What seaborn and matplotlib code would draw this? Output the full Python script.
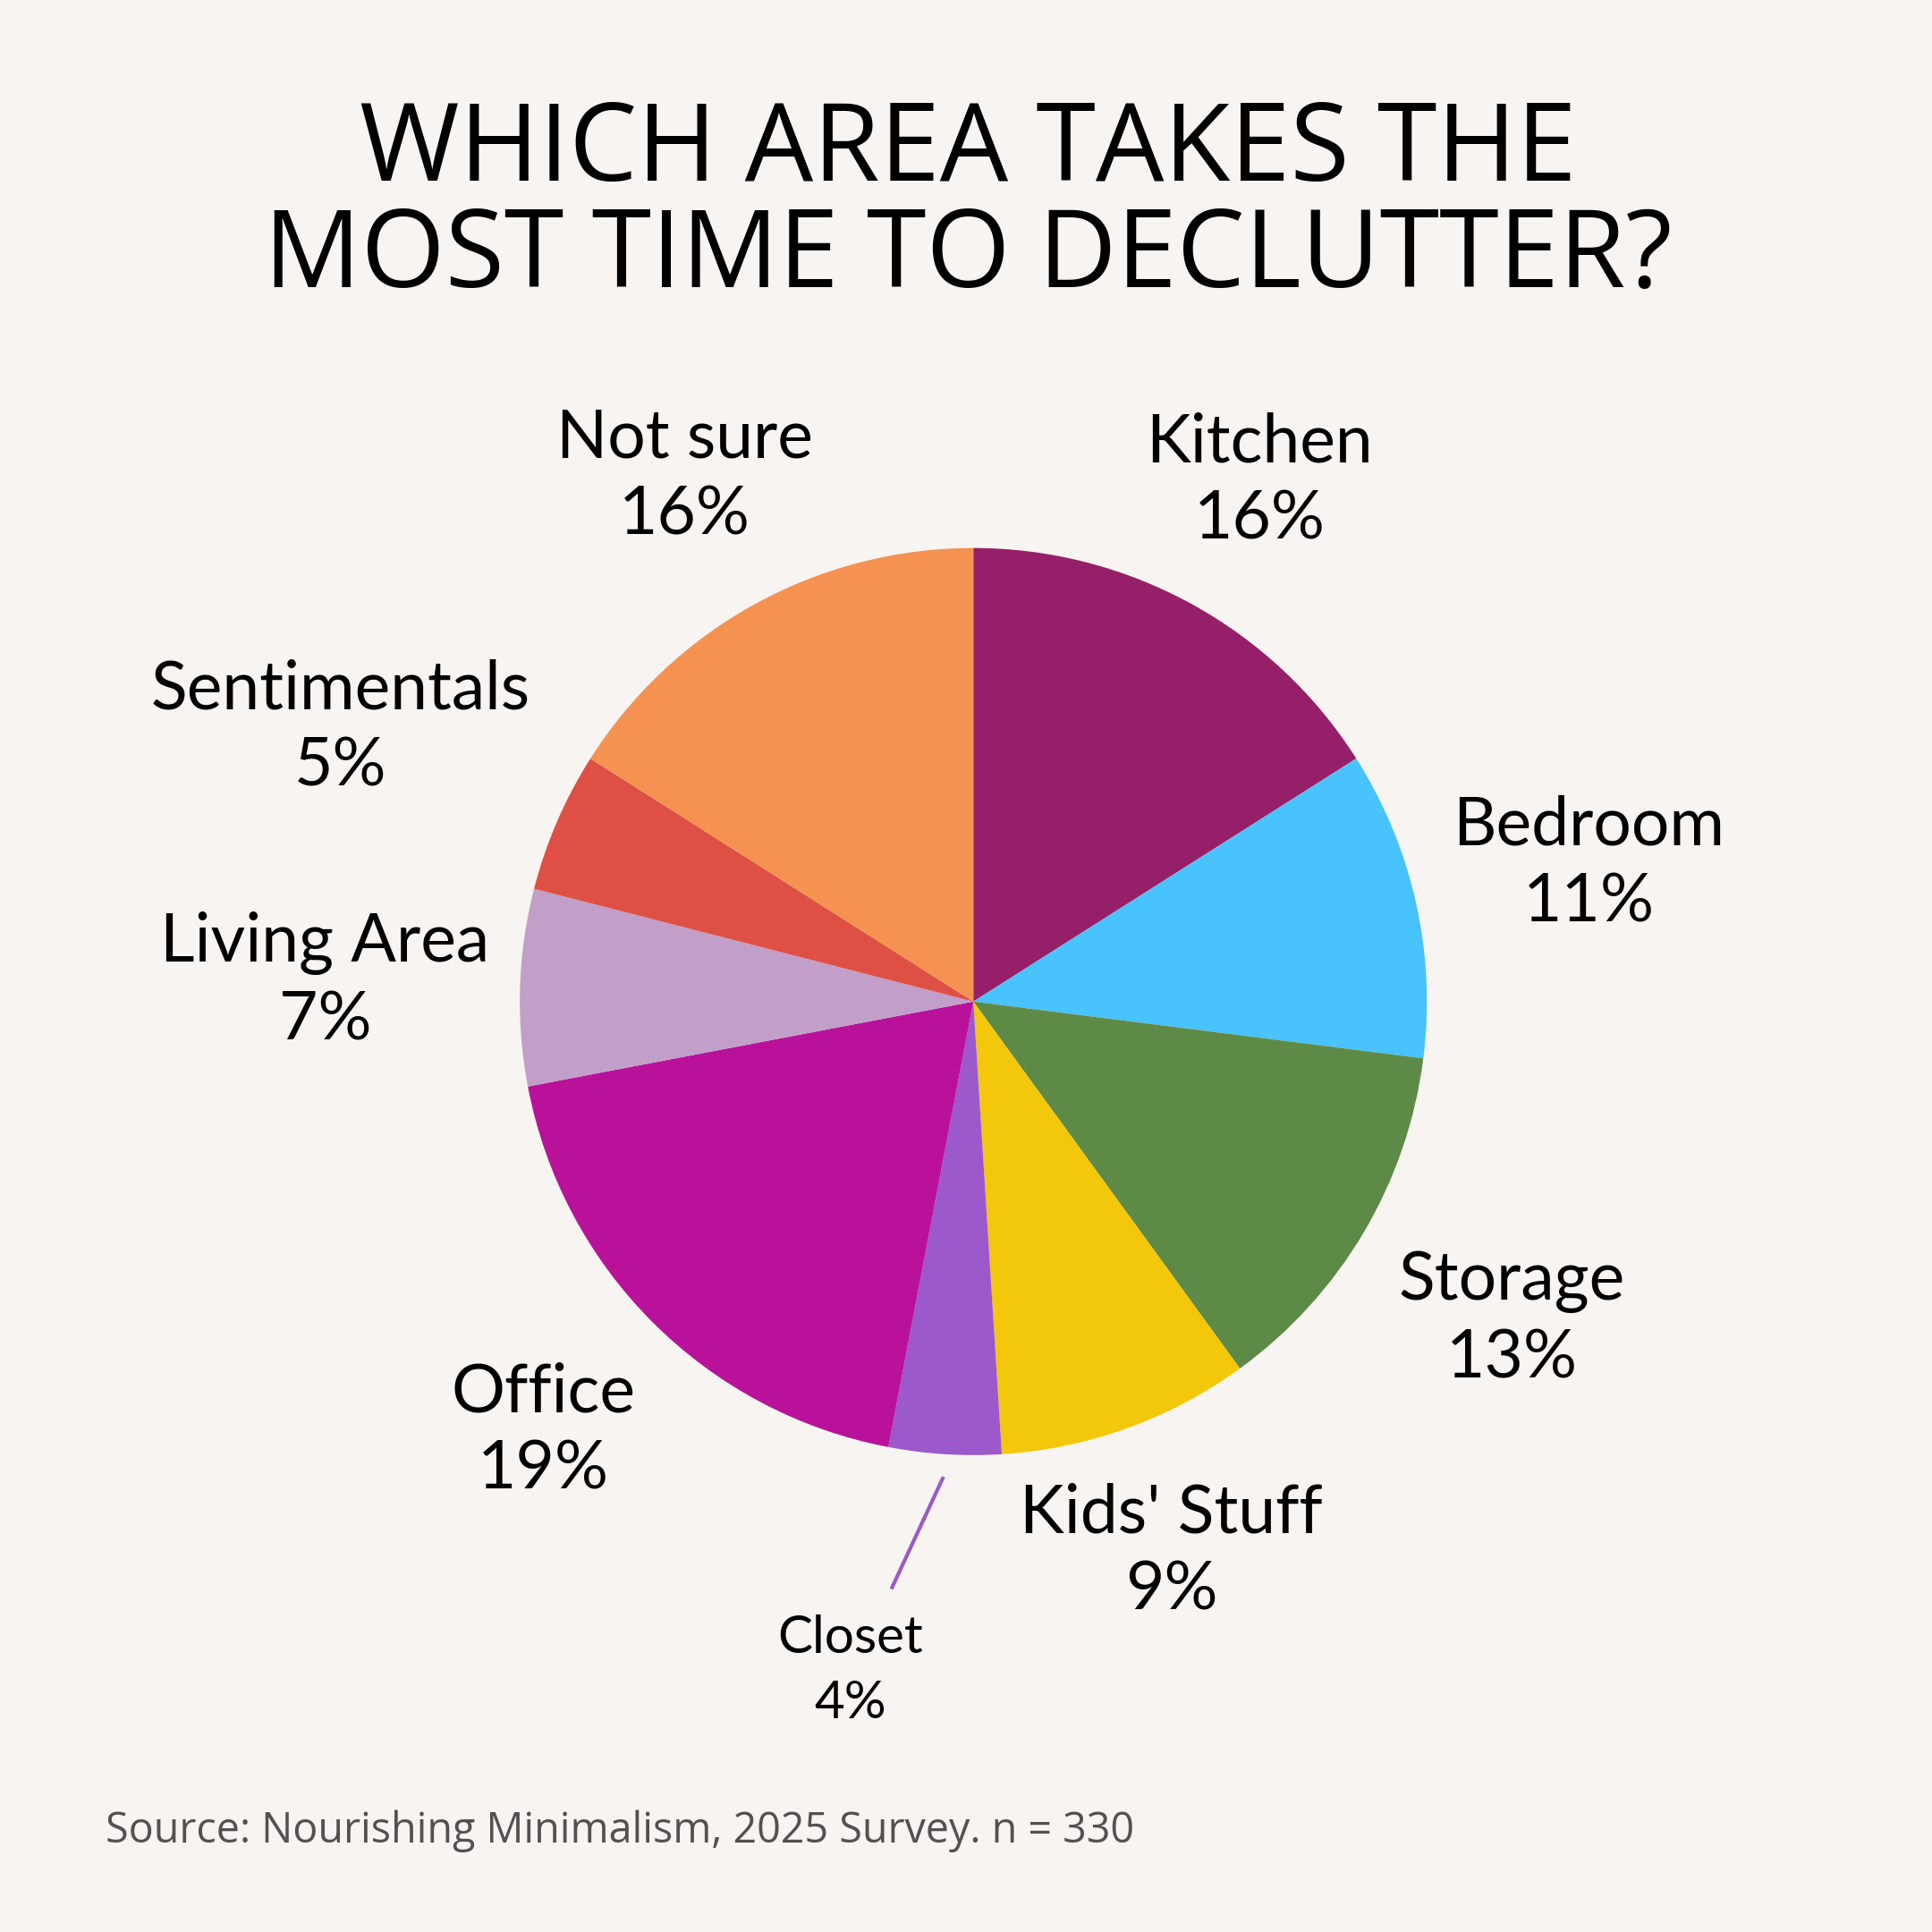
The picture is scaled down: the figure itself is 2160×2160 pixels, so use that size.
import numpy as np
import seaborn as sns
import matplotlib.pyplot as plt

# survey data
areas = ['Kitchen', 'Bedroom', 'Storage', "Kids' Stuff", 'Closet', 'Office',
         'Living Area', 'Sentimentals', 'Not sure']
shares = [16, 11, 13, 9, 4, 19, 7, 5, 16]
colors = ['#952069', '#48C3FD', '#5E8A47', '#F3C70A', '#9B59CB', '#BA119B',
          '#C29FC9', '#DF5044', '#F59252']

# label layout (pie radius = 1)
label_dist = [1.31, 1.39, 1.38, 1.29, 1.50, 1.34, 1.43, 1.52, 1.32]
label_shift = [0, 0, 0, 0, -6.8, 0, 0, 0, 0]

bg = '#F8F4F1'
sns.set_theme(style='white')
plt.rcParams['font.family'] = ['Lato', 'DejaVu Sans']

fig = plt.figure(figsize=(7.2, 7.2), dpi=300, facecolor=bg)
ax = fig.add_axes([0.0343, 0.0121, 0.939, 0.939])
ax.set_facecolor(bg)

wedges, _ = ax.pie(shares, colors=colors, startangle=90, counterclock=False,
                   radius=1, wedgeprops=dict(linewidth=0))

for w, name, val, d, sh in zip(wedges, areas, shares, label_dist, label_shift):
    mid = np.deg2rad((w.theta1 + w.theta2) / 2 + sh)
    x, y = d * np.cos(mid), d * np.sin(mid)
    small = name == 'Closet'
    ax.text(x, y, f'{name}\n{val}%', ha='center', va='center',
            fontsize=14 if small else 18, linespacing=1.45 if small else 1.3,
            fontweight='normal', color='black')
    if small:
        m0 = np.deg2rad((w.theta1 + w.theta2) / 2)
        ax.plot([1.05 * np.cos(m0), x + 0.09], [1.05 * np.sin(m0), y + 0.18],
                color=w.get_facecolor(), lw=1.0, solid_capstyle='butt')

ax.set_xlim(-2, 2)
ax.set_ylim(-2, 2)
ax.set_aspect('equal')
ax.axis('off')

fig.text(0.501, 0.921, 'WHICH AREA TAKES THE', ha='center', va='center',
         fontsize=29, family=['Open Sans', 'DejaVu Sans'], color='black')
fig.text(0.501, 0.866, 'MOST TIME TO DECLUTTER?', ha='center', va='center',
         fontsize=29, family=['Open Sans', 'DejaVu Sans'], color='black')
fig.text(0.0546, 0.052, 'Source: Nourishing Minimalism, 2025 Survey. n = 330',
         ha='left', va='center', fontsize=11.2,
         family=['Open Sans', 'DejaVu Sans'], color='#555050')

fig.savefig('out.png', dpi=300, facecolor=bg)
